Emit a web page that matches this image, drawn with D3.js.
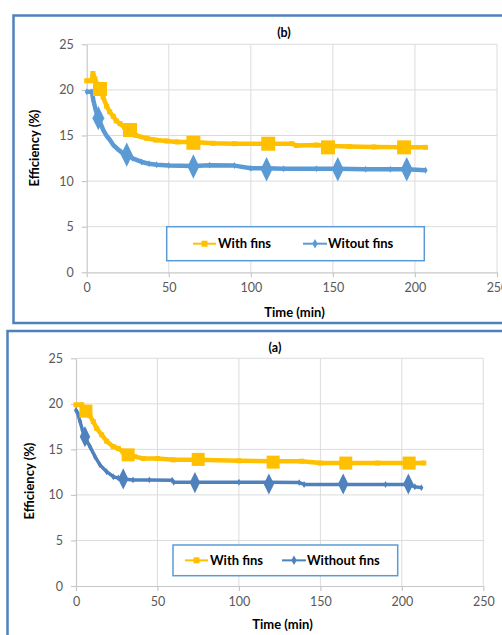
<!DOCTYPE html>
<html>
<head>
<meta charset="utf-8">
<script src="https://cdn.jsdelivr.net/npm/d3@7"></script>
<style>
  body { margin: 0; background: #fff; }
  svg { display: block; font-family: Lato, "Liberation Sans", sans-serif; }
</style>
</head>
<body>
<div id="dataviz"></div>
<script>
// tick values shared by both panels
var xTicks = [0, 50, 100, 150, 200, 250];
var yTicks = [0, 5, 10, 15, 20, 25];

// panel (b) - with fins
var timeFinsB = [0, 3, 3.8, 5, 6.5, 8.1, 10, 12.2, 14, 16.2, 18, 20.3, 23, 26.4, 30, 36.5, 42, 48.7, 55, 65, 77, 90, 110.6, 125, 128, 140, 150, 160, 175, 193.4, 206.4];
var effFinsB  = [21.0, 21.0, 21.8, 21.2, 20.6, 20.2, 19.2, 18.2, 17.6, 17.1, 16.6, 16.3, 15.9, 15.6, 15.0, 14.7, 14.5, 14.4, 14.3, 14.3, 14.15, 14.1, 14.1, 14.1, 13.9, 13.95, 13.85, 13.8, 13.75, 13.7, 13.7];
var markTimeFinsB = [8.1, 26.4, 65, 110.6, 147, 193.4];
var markEffFinsB  = [20.1, 15.6, 14.2, 14.1, 13.7, 13.7];

// panel (b) - without fins
var timeNoFinsB = [0, 3.2, 4, 5.5, 7.1, 8.5, 10.1, 12, 14.2, 16, 18.3, 21, 24.4, 28, 33.5, 38, 42.6, 50, 65, 75, 90, 100, 109.6, 120, 140, 153, 170, 185, 195, 206.5];
var effNoFinsB  = [19.8, 19.8, 18.9, 17.8, 16.9, 16.3, 15.6, 15.0, 14.5, 14.0, 13.6, 13.2, 12.9, 12.5, 12.1, 11.9, 11.8, 11.7, 11.65, 11.75, 11.7, 11.4, 11.4, 11.35, 11.35, 11.35, 11.3, 11.3, 11.3, 11.2];
var markTimeNoFinsB = [7.1, 24.4, 65, 109.6, 153, 195];
var markEffNoFinsB  = [16.9, 12.9, 11.6, 11.3, 11.3, 11.3];

// panel (a) - with fins
var timeFinsA = [0, 3.5, 6.1, 8.5, 10.6, 12.7, 15.8, 18.8, 22.9, 26, 29, 32, 36, 41.3, 50, 59.7, 75, 100, 120, 138.5, 150, 165.6, 185, 204.5, 213.5];
var effFinsA  = [19.9, 19.9, 19.3, 18.7, 18.05, 17.3, 16.6, 15.9, 15.3, 15.1, 14.7, 14.4, 14.2, 14.0, 14.0, 13.85, 13.85, 13.75, 13.7, 13.7, 13.5, 13.5, 13.5, 13.5, 13.5];
var markTimeFinsA = [6.1, 32, 75, 121, 165.6, 204.5];
var markEffFinsA  = [19.2, 14.4, 13.9, 13.6, 13.5, 13.5];

// panel (a) - without fins
var timeNoFinsA = [0, 1, 2.5, 4, 5.5, 7, 8.6, 11.7, 14.7, 18.8, 22.9, 26, 29, 35, 45, 59, 60, 73, 100, 118.4, 137, 140, 164, 190, 204, 208, 212];
var effNoFinsA  = [19.3, 19.0, 18.05, 17.1, 16.4, 15.8, 15.3, 14.2, 13.3, 12.55, 12.0, 11.85, 11.75, 11.65, 11.65, 11.6, 11.4, 11.4, 11.4, 11.4, 11.35, 11.15, 11.15, 11.15, 11.15, 10.9, 10.8];
var markTimeNoFinsA = [5.5, 29, 73, 118.4, 164, 204];
var markEffNoFinsA  = [16.4, 11.75, 11.35, 11.2, 11.2, 11.2];

var svg = d3.select("#dataviz")
  .append("svg")
    .attr("width", 502)
    .attr("height", 635);

var yellow = "#FFC000";

function drawPanel(p) {

  // frame round the panel
  svg.append("rect")
    .attr("x", p.frame[0])
    .attr("y", p.frame[1])
    .attr("width", 600)
    .attr("height", p.frame[2])
    .attr("fill", "none")
    .attr("stroke", "#4f81bd")
    .attr("stroke-width", 2.5);

  var x = d3.scaleLinear().domain([0, 250]).range([p.left, p.right]);
  var y = d3.scaleLinear().domain([0, 25]).range([p.bottom, p.top]);

  // grid
  svg.append("g")
    .selectAll("line.h")
    .data(yTicks.slice(1))
    .enter().append("line")
      .attr("x1", p.left).attr("x2", p.right)
      .attr("y1", d => y(d)).attr("y2", d => y(d))
      .attr("stroke", "#dcdcdc").attr("stroke-width", 1);

  svg.append("g")
    .selectAll("line.v")
    .data(xTicks.slice(1))
    .enter().append("line")
      .attr("x1", d => x(d)).attr("x2", d => x(d))
      .attr("y1", p.top).attr("y2", p.bottom)
      .attr("stroke", "#dcdcdc").attr("stroke-width", 1);

  var xAxis = d3.axisBottom(x).tickValues(xTicks).tickSize(5).tickPadding(6).tickSizeOuter(0);
  var yAxis = d3.axisLeft(y).tickValues(yTicks).tickSize(5).tickPadding(8).tickSizeOuter(0);

  var gx = svg.append("g")
    .attr("transform", "translate(0," + p.bottom + ")")
    .call(xAxis);
  var gy = svg.append("g")
    .attr("transform", "translate(" + p.left + ",0)")
    .call(yAxis);

  [gx, gy].forEach(function(g) {
    g.select(".domain").attr("stroke", "#c8c8c8").attr("stroke-width", 1.2);
    g.selectAll(".tick line").attr("stroke", "#c8c8c8").attr("stroke-width", 1.2);
    g.selectAll(".tick text")
      .attr("fill", "#595959")
      .attr("font-size", "12.5px")
      .attr("font-family", "Lato, sans-serif");
  });

  // titles
  svg.append("text")
    .attr("x", p.titleX).attr("y", p.titleY)
    .attr("text-anchor", "middle")
    .attr("font-size", "12.5px").attr("font-weight", "bold")
    .text(p.title);

  svg.append("text")
    .attr("x", p.xTitleX).attr("y", p.xTitleY)
    .attr("text-anchor", "middle")
    .attr("font-size", "13px").attr("font-weight", "bold")
    .text("Time (min)");

  svg.append("text")
    .attr("transform", "translate(" + p.yTitleX + "," + p.yTitleY + ") rotate(-90)")
    .attr("text-anchor", "middle")
    .attr("font-size", "13px").attr("font-weight", "bold")
    .text("Efficiency (%)");

  var line = d3.line()
    .x(function(d) { return x(d[0]); })
    .y(function(d) { return y(d[1]); });

  var finsData = d3.zip(p.timeFins, p.effFins);
  var noFinsData = d3.zip(p.timeNoFins, p.effNoFins);

  svg.append("path")
    .datum(finsData)
    .attr("fill", "none")
    .attr("stroke", yellow)
    .attr("stroke-width", 4.5)
    .attr("stroke-linejoin", "round")
    .attr("d", line);

  svg.append("g")
    .selectAll("rect")
    .data(finsData)
    .enter().append("rect")
      .attr("x", d => x(d[0]) - 2.5)
      .attr("y", d => y(d[1]) - 2.5)
      .attr("width", 5).attr("height", 5)
      .attr("fill", yellow);

  svg.append("path")
    .datum(noFinsData)
    .attr("fill", "none")
    .attr("stroke", p.blue)
    .attr("stroke-width", p.blueWidth)
    .attr("stroke-linejoin", "round")
    .attr("d", line);

  var diamond = d3.symbol().type(d3.symbolDiamond);

  svg.append("g")
    .selectAll("path")
    .data(noFinsData)
    .enter().append("path")
      .attr("transform", d => "translate(" + x(d[0]) + "," + y(d[1]) + ")")
      .attr("d", diamond.size(14)())
      .attr("fill", p.blue);

  // big markers
  svg.append("g")
    .selectAll("rect")
    .data(d3.zip(p.markTimeFins, p.markEffFins))
    .enter().append("rect")
      .attr("x", d => x(d[0]) - p.sq / 2)
      .attr("y", d => y(d[1]) - p.sq / 2)
      .attr("width", p.sq).attr("height", p.sq)
      .attr("fill", yellow);

  svg.append("g")
    .selectAll("path")
    .data(d3.zip(p.markTimeNoFins, p.markEffNoFins))
    .enter().append("path")
      .attr("transform", d => "translate(" + x(d[0]) + "," + y(d[1]) + ") scale(0.85,1)")
      .attr("d", d3.symbol().type(d3.symbolDiamond).size(p.dia)())
      .attr("fill", p.blue);

  // legend
  var lg = p.legend;
  svg.append("rect")
    .attr("x", lg.x).attr("y", lg.y)
    .attr("width", lg.w).attr("height", lg.h)
    .attr("fill", "#fff")
    .attr("stroke", "#5b9bd5")
    .attr("stroke-width", 1.5);

  var cy = lg.y + lg.h / 2;

  svg.append("line")
    .attr("x1", lg.l1).attr("x2", lg.l1 + 23)
    .attr("y1", cy).attr("y2", cy)
    .attr("stroke", yellow).attr("stroke-width", 2);
  svg.append("rect")
    .attr("x", lg.l1 + 11.5 - 3).attr("y", cy - 3)
    .attr("width", 6).attr("height", 6)
    .attr("fill", yellow);
  svg.append("text")
    .attr("x", lg.l1 + 25).attr("y", cy + 4.5)
    .attr("font-size", "13px").attr("font-weight", "bold")
    .text("With fins");

  svg.append("line")
    .attr("x1", lg.l2).attr("x2", lg.l2 + 24)
    .attr("y1", cy).attr("y2", cy)
    .attr("stroke", p.blue).attr("stroke-width", 2);
  svg.append("path")
    .attr("transform", "translate(" + (lg.l2 + 12) + "," + cy + ")")
    .attr("d", d3.symbol().type(d3.symbolDiamond).size(26)())
    .attr("fill", p.blue);
  svg.append("text")
    .attr("x", lg.l2 + 25).attr("y", cy + 4.5)
    .attr("font-size", "13px").attr("font-weight", "bold")
    .text(p.noFinsLabel);
}

drawPanel({
  frame: [13.5, 15.5, 307.5],
  left: 86.7, right: 497, top: 44.3, bottom: 272.3,
  title: "(b)", titleX: 284, titleY: 37,
  xTitleX: 294.5, xTitleY: 317,
  yTitleX: 39, yTitleY: 148,
  timeFins: timeFinsB, effFins: effFinsB,
  timeNoFins: timeNoFinsB, effNoFins: effNoFinsB,
  markTimeFins: markTimeFinsB, markEffFins: markEffFinsB,
  markTimeNoFins: markTimeNoFinsB, markEffNoFins: markEffNoFinsB,
  blue: "#5b9bd5", blueWidth: 4.5, sq: 14, dia: 170,
  legend: {x: 166.7, y: 226.7, w: 257.6, h: 34, l1: 193, l2: 303},
  noFinsLabel: "Witout fins"
});

drawPanel({
  frame: [7.5, 331, 400],
  left: 76, right: 483.3, top: 358.3, bottom: 586,
  title: "(a)", titleX: 275, titleY: 352,
  xTitleX: 282.5, xTitleY: 628.5,
  yTitleX: 34, yTitleY: 481,
  timeFins: timeFinsA, effFins: effFinsA,
  timeNoFins: timeNoFinsA, effNoFins: effNoFinsA,
  markTimeFins: markTimeFinsA, markEffFins: markEffFinsA,
  markTimeNoFins: markTimeNoFinsA, markEffNoFins: markEffNoFinsA,
  blue: "#4f81bd", blueWidth: 3.5, sq: 13, dia: 130,
  legend: {x: 173, y: 545, w: 224.7, h: 30.7, l1: 185, l2: 282},
  noFinsLabel: "Without fins"
});
</script>
</body>
</html>
